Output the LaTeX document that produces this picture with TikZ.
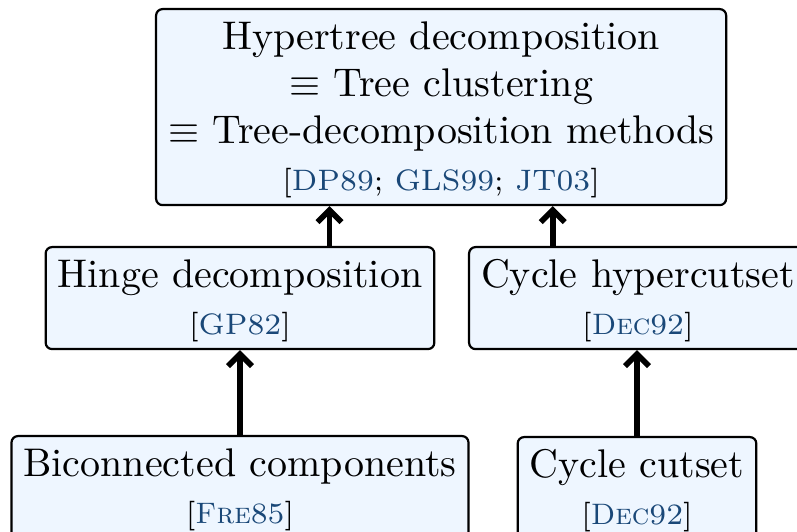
\documentclass[tikz,border=0pt]{standalone}
\usetikzlibrary{arrows.meta,calc}
\definecolor{boxfill}{HTML}{EEF6FF}
\definecolor{citeblue}{HTML}{1A4878}
\newcommand{\ck}[1]{\textcolor{citeblue}{#1}}
\newcommand{\citefont}{\fontsize{7.4pt}{11.75pt}\selectfont}
\newcommand{\firststrut}{\rule{0pt}{10pt}}
\newcommand{\laststrut}{\rule[-3.75pt]{0pt}{3.75pt}}
\begin{document}
\begin{tikzpicture}[x=0.25pt,y=-0.25pt,
  box/.style={draw=black, line width=0.55pt, rounded corners=1.6pt, fill=boxfill,
    align=center, inner xsep=3pt, inner ysep=0pt,
    font=\fontsize{10pt}{11.75pt}\selectfont},
  arr/.style={line width=1.4pt, -{Straight Barb[length=3pt,width=6pt]}}]
\useasboundingbox (0,0) rectangle (797,532);
\node[box, anchor=north west] (top) at (155,8)
  {\firststrut Hypertree decomposition\\
   $\equiv$ Tree clustering\\
   $\equiv$ Tree-decomposition methods\\
   {\citefont [\ck{DP89}; \ck{GLS99}; \ck{JT03}]\laststrut}};
\node[box, anchor=north] (hinge) at (240,246)
  {\firststrut Hinge decomposition\\ {\citefont [\ck{GP82}]\laststrut}};
\node[box, anchor=north west] (hyper) at (468,246)
  {\firststrut Cycle hypercutset\\ {\citefont [\ck{\textsc{Dec}92}]\laststrut}};
\node[box, anchor=north] (bicon) at (240,435)
  {\firststrut Biconnected components\\ {\citefont [\ck{\textsc{Fre}85}]\laststrut}};
\node[box, anchor=north] (cycle) at (637,436)
  {\firststrut Cycle cutset\\ {\citefont [\ck{\textsc{Dec}92}]\laststrut}};
\coordinate (t1) at ($(top.south west)!0.305!(top.south east)$);
\coordinate (t2) at ($(top.south west)!0.695!(top.south east)$);
\draw[arr] (hinge.north -| t1) -- (t1);
\draw[arr] (hyper.north -| t2) -- (t2);
\draw[arr] (bicon.north) -- (bicon.north |- hinge.south);
\draw[arr] (cycle.north) -- (cycle.north |- hyper.south);
\end{tikzpicture}
\end{document}
